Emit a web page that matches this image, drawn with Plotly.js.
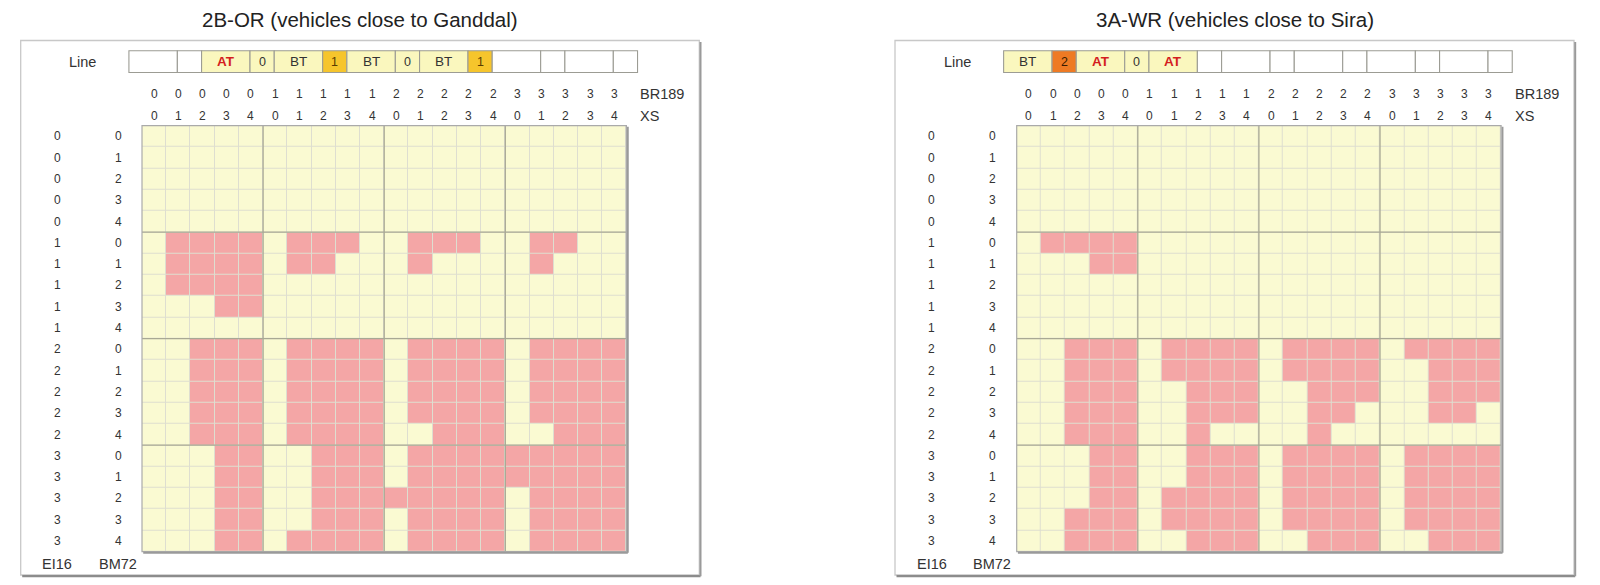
<!DOCTYPE html>
<html>
<head>
<meta charset="utf-8">
<script src="https://cdn.plot.ly/plotly-3.0.1.min.js"></script>
<style>
  html, body { margin: 0; padding: 0; background: #ffffff; }
  #chart { width: 1600px; height: 585px; }
</style>
</head>
<body>
<div id="chart"></div>
<script>
// ---- data -------------------------------------------------------------
const br189 = [0,0,0,0,0, 1,1,1,1,1, 2,2,2,2,2, 3,3,3,3,3];
const xs    = [0,1,2,3,4, 0,1,2,3,4, 0,1,2,3,4, 0,1,2,3,4];
const ei16  = [0,0,0,0,0, 1,1,1,1,1, 2,2,2,2,2, 3,3,3,3,3];
const bm72  = [0,1,2,3,4, 0,1,2,3,4, 0,1,2,3,4, 0,1,2,3,4];

const titleLeft  = "2B-OR (vehicles close to Ganddal)";
const titleRight = "3A-WR (vehicles close to Sira)";

// "Line" strip: alternating wide / narrow boxes
const lineLeft  = ["", "", "AT", "0", "BT", "1", "BT", "0", "BT", "1", "", "", "", ""];
const lineRight = ["BT", "2", "AT", "0", "AT", "", "", "", "", "", "", "", "", ""];

// 1 = state reached (pink), 0 = not reached (yellow); rows = EI16/BM72, cols = BR189/XS
const gridLeft = [
  "00000000000000000000",
  "00000000000000000000",
  "00000000000000000000",
  "00000000000000000000",
  "00000000000000000000",
  "01111011100111001100",
  "01111011000100001000",
  "01111000000000000000",
  "00011000000000000000",
  "00000000000000000000",
  "00111011110111101111",
  "00111011110111101111",
  "00111011110111101111",
  "00111011110111101111",
  "00111011110011100111",
  "00011001110111111111",
  "00011001110111111111",
  "00011001111111101111",
  "00011001110111101111",
  "00011011110111101111"
];
const gridRight = [
  "00000000000000000000",
  "00000000000000000000",
  "00000000000000000000",
  "00000000000000000000",
  "00000000000000000000",
  "01111000000000000000",
  "00011000000000000000",
  "00000000000000000000",
  "00000000000000000000",
  "00000000000000000000",
  "00111011110111101111",
  "00111011110111100111",
  "00111001110011100111",
  "00111001110011000110",
  "00111001000010000000",
  "00011001110111101111",
  "00011001110111101111",
  "00011011110111101111",
  "00111011110111101111",
  "00111001110011100111"
];

// ---- geometry / styling -------------------------------------------------
const W = 1600, H = 585;
const CW = 24.22, RH = 21.3, GRID_TOP = 125.7;
const X_RANGE = [-6, 22.3], Y_RANGE = [21, -5.2];
const YELLOW = "#FAFAD2", PINK = "#F4A6A6", GAP = "#DEDED0";
const FONT = "Liberation Sans, Arial, sans-serif";
const TXT = "#333333";
const NUM_SIZE = 12, WORD_SIZE = 14.5;

const boxStyle = {
  "":   { fill: "#FFFFFF", color: TXT },
  "AT": { fill: "#FAF7BE", color: "#D41E1E" },
  "BT": { fill: "#FAF7BE", color: TXT },
  "0":  { fill: "#FAF7BE", color: TXT },
  "1":  { fill: "#F6C52C", color: "#5A3C00" },
  "2":  { fill: "#EE7A24", color: "#3A1A00" }
};

const panels = [
  { gridX: 142.0,  frame: [20.7, 699.3], title: titleLeft,  grid: gridLeft,  line: lineLeft,  xa: "x",  ya: "y"  },
  { gridX: 1016.7, frame: [895.0, 1574.0], title: titleRight, grid: gridRight, line: lineRight, xa: "x2", ya: "y2" }
];

const traces = [], shapes = [], annotations = [];
const layout = {
  width: W, height: H,
  margin: { l: 0, r: 0, t: 0, b: 0, pad: 0 },
  paper_bgcolor: "#ffffff", plot_bgcolor: "rgba(0,0,0,0)",
  showlegend: false, hovermode: false,
  font: { family: FONT, color: TXT }
};

const yDomain = [1 - (GRID_TOP + (Y_RANGE[0] + 0.5) * RH) / H,
                 1 - (GRID_TOP + (Y_RANGE[1] + 0.5) * RH) / H];

function label(xref, yref, x, y, text, size, color, extra) {
  annotations.push(Object.assign({
    xref: xref, yref: yref, x: x, y: y, text: text, showarrow: false,
    xanchor: "center", yanchor: "middle",
    font: { family: FONT, size: size, color: color || TXT }
  }, extra || {}));
}

panels.forEach((p, i) => {
  const sfx = i === 0 ? "" : "2";
  const xDomain = [(p.gridX + (X_RANGE[0] + 0.5) * CW) / W,
                   (p.gridX + (X_RANGE[1] + 0.5) * CW) / W];
  layout["xaxis" + sfx] = { domain: xDomain, range: X_RANGE, visible: false, fixedrange: true, anchor: "y" + sfx };
  layout["yaxis" + sfx] = { domain: yDomain, range: Y_RANGE, visible: false, fixedrange: true, anchor: "x" + sfx };

  // panel frame with drop shadow
  const fx0 = p.frame[0] / W, fx1 = p.frame[1] / W;
  const fy0 = 1 - 575 / H, fy1 = 1 - 40.5 / H;
  shapes.push({ type: "rect", xref: "paper", yref: "paper", x0: fx0, x1: fx1, y0: fy0, y1: fy1,
                line: { color: "#C8C8C8", width: 1.3 }, fillcolor: "rgba(0,0,0,0)", layer: "below" });
  shapes.push({ type: "line", xref: "paper", yref: "paper", x0: fx0 + 1.5 / W, x1: fx1 + 1.2 / W, y0: fy0 - 1.2 / H, y1: fy0 - 1.2 / H,
                line: { color: "#8C8C8C", width: 2.2 }, layer: "below" });
  shapes.push({ type: "line", xref: "paper", yref: "paper", x0: fx1 + 1.2 / W, x1: fx1 + 1.2 / W, y0: fy0 - 1.2 / H, y1: fy1 - 1.5 / H,
                line: { color: "#9A9A9A", width: 2 }, layer: "below" });

  // title
  label("paper", "paper", (p.frame[0] + p.frame[1]) / 2 / W, 1 - 20 / H, p.title, 20.5, "#222222");

  // cell grid
  shapes.push({ type: "rect", xref: p.xa, yref: p.ya, x0: -0.5, x1: 19.5, y0: -0.5, y1: 19.5,
                fillcolor: GAP, line: { width: 0 }, layer: "below" });
  const z = p.grid.map(row => row.split("").map(Number));
  traces.push({
    type: "heatmap", xaxis: p.xa, yaxis: p.ya,
    x: br189.map((_, k) => k), y: ei16.map((_, k) => k), z: z,
    zmin: 0, zmax: 1, colorscale: [[0, YELLOW], [0.5, YELLOW], [0.5, PINK], [1, PINK]],
    showscale: false, xgap: 1, ygap: 1, hoverinfo: "skip"
  });
  [4.5, 9.5, 14.5].forEach(v => {
    shapes.push({ type: "line", xref: p.xa, yref: p.ya, x0: v, x1: v, y0: -0.5, y1: 19.5,
                  line: { color: "#A8A894", width: 1.3 } });
    shapes.push({ type: "line", xref: p.xa, yref: p.ya, x0: -0.5, x1: 19.5, y0: v, y1: v,
                  line: { color: "#A8A894", width: 1.3 } });
  });
  shapes.push({ type: "rect", xref: p.xa, yref: p.ya, x0: -0.5, x1: 19.5, y0: -0.5, y1: 19.5,
                line: { color: "#AAAAAA", width: 1.2 }, fillcolor: "rgba(0,0,0,0)" });
  shapes.push({ type: "line", xref: p.xa, yref: p.ya, x0: 19.56, x1: 19.56, y0: -0.45, y1: 19.55,
                line: { color: "#9A9A9A", width: 1.8 } });
  shapes.push({ type: "line", xref: p.xa, yref: p.ya, x0: -0.45, x1: 19.56, y0: 19.55, y1: 19.55,
                line: { color: "#9A9A9A", width: 1.8 } });

  // column headers
  br189.forEach((v, k) => label(p.xa, p.ya, k, -2.0, String(v), NUM_SIZE));
  xs.forEach((v, k) => label(p.xa, p.ya, k, -0.95, String(v), NUM_SIZE));
  label(p.xa, p.ya, 19.98, -2.0, "BR189", WORD_SIZE, TXT, { xanchor: "left" });
  label(p.xa, p.ya, 19.98, -0.95, "XS", WORD_SIZE, TXT, { xanchor: "left" });

  // row headers
  ei16.forEach((v, k) => label(p.xa, p.ya, -4.0, k, String(v), NUM_SIZE));
  bm72.forEach((v, k) => label(p.xa, p.ya, -1.48, k, String(v), NUM_SIZE));
  label(p.xa, p.ya, -4.0, 20.1, "EI16", WORD_SIZE);
  label(p.xa, p.ya, -1.51, 20.1, "BM72", WORD_SIZE);

  // "Line" strip
  label(p.xa, p.ya, -2.94, -3.5, "Line", WORD_SIZE);
  let pos = -1.04;
  p.line.forEach((txt, k) => {
    const w = k % 2 === 0 ? 2 : 1;
    const st = boxStyle[txt];
    shapes.push({ type: "rect", xref: p.xa, yref: p.ya, x0: pos, x1: pos + w, y0: -4.02, y1: -3.0,
                  fillcolor: st.fill, line: { color: "#9C9C94", width: 1.1 } });
    if (txt) {
      const bold = txt === "AT";
      label(p.xa, p.ya, pos + w / 2, -3.5, txt, w === 2 ? 13.5 : 12.5, st.color,
            bold ? { font: { family: FONT, size: 13.5, color: st.color, weight: "bold" } } : {});
    }
    pos += w;
  });
});

layout.shapes = shapes;
layout.annotations = annotations;

Plotly.newPlot("chart", traces, layout, { staticPlot: true, displayModeBar: false });
</script>
</body>
</html>
